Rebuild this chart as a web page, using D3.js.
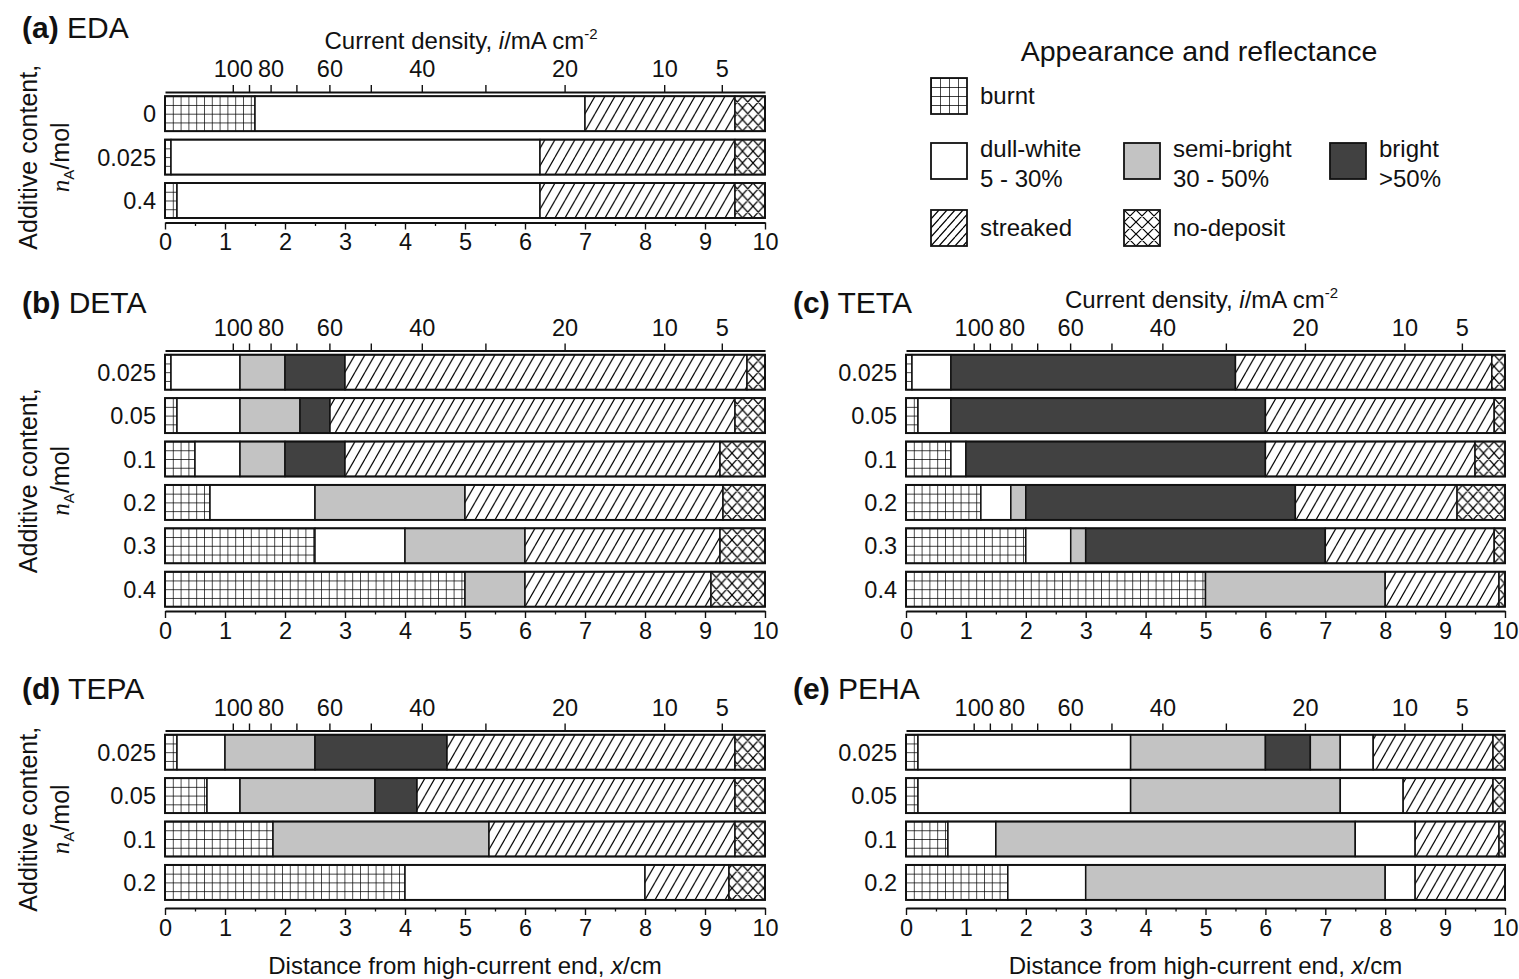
<!DOCTYPE html>
<html>
<head>
<meta charset="utf-8">
<script src="https://cdn.jsdelivr.net/npm/d3@7"></script>
<style>
body { margin: 0; background: #fff; }
svg text { font-family: "Liberation Sans", Arial, sans-serif; fill: #111; }
</style>
</head>
<body>
<svg id="chart" width="1519" height="979"></svg>
<script>
"use strict";

// bottom axis: distance from high-current end (cm)
var distanceTicks = [0, 1, 2, 3, 4, 5, 6, 7, 8, 9, 10];
var distanceMinor = [0.5, 1.5, 2.5, 3.5, 4.5, 5.5, 6.5, 7.5, 8.5, 9.5];

// top axis: current density (mA cm-2 at position x)
var currentTicks = [100, 90, 80, 70, 60, 50, 40, 30, 20, 10, 5];
var currentTickPos = [1.13, 1.40, 1.76, 2.19, 2.74, 3.43, 4.28, 5.34, 6.66, 8.32, 9.28];
var currentLabelled = [100, 80, 60, 40, 20, 10, 5];

var categories = ["burnt", "dull", "semi", "bright", "streaked", "none"];
var legendLabels = [["burnt"], ["dull-white", "5 - 30%"], ["semi-bright", "30 - 50%"], ["bright", ">50%"], ["streaked"], ["no-deposit"]];

// each row: [appearance, end position in cm], starting at 0
var edaContent = ["0", "0.025", "0.4"];
var edaBands = [
  [["burnt", 1.5], ["dull", 7.0], ["streaked", 9.5], ["none", 10]],
  [["burnt", 0.1], ["dull", 6.25], ["streaked", 9.5], ["none", 10]],
  [["burnt", 0.2], ["dull", 6.25], ["streaked", 9.5], ["none", 10]]
];

var detaContent = ["0.025", "0.05", "0.1", "0.2", "0.3", "0.4"];
var detaBands = [
  [["burnt", 0.1], ["dull", 1.25], ["semi", 2.0], ["bright", 3.0], ["streaked", 9.7], ["none", 10]],
  [["burnt", 0.2], ["dull", 1.25], ["semi", 2.25], ["bright", 2.75], ["streaked", 9.5], ["none", 10]],
  [["burnt", 0.5], ["dull", 1.25], ["semi", 2.0], ["bright", 3.0], ["streaked", 9.25], ["none", 10]],
  [["burnt", 0.75], ["dull", 2.5], ["semi", 5.0], ["streaked", 9.3], ["none", 10]],
  [["burnt", 2.5], ["dull", 4.0], ["semi", 6.0], ["streaked", 9.25], ["none", 10]],
  [["burnt", 5.0], ["semi", 6.0], ["streaked", 9.1], ["none", 10]]
];

var tetaContent = ["0.025", "0.05", "0.1", "0.2", "0.3", "0.4"];
var tetaBands = [
  [["burnt", 0.1], ["dull", 0.75], ["bright", 5.5], ["streaked", 9.78], ["none", 10]],
  [["burnt", 0.2], ["dull", 0.75], ["bright", 6.0], ["streaked", 9.82], ["none", 10]],
  [["burnt", 0.75], ["dull", 1.0], ["bright", 6.0], ["streaked", 9.5], ["none", 10]],
  [["burnt", 1.25], ["dull", 1.75], ["semi", 2.0], ["bright", 6.5], ["streaked", 9.2], ["none", 10]],
  [["burnt", 2.0], ["dull", 2.75], ["semi", 3.0], ["bright", 7.0], ["streaked", 9.82], ["none", 10]],
  [["burnt", 5.0], ["semi", 8.0], ["streaked", 9.9], ["none", 10]]
];

var tepaContent = ["0.025", "0.05", "0.1", "0.2"];
var tepaBands = [
  [["burnt", 0.2], ["dull", 1.0], ["semi", 2.5], ["bright", 4.7], ["streaked", 9.5], ["none", 10]],
  [["burnt", 0.7], ["dull", 1.25], ["semi", 3.5], ["bright", 4.2], ["streaked", 9.5], ["none", 10]],
  [["burnt", 1.8], ["semi", 5.4], ["streaked", 9.5], ["none", 10]],
  [["burnt", 4.0], ["dull", 8.0], ["streaked", 9.4], ["none", 10]]
];

var pehaContent = ["0.025", "0.05", "0.1", "0.2"];
var pehaBands = [
  [["burnt", 0.2], ["dull", 3.75], ["semi", 6.0], ["bright", 6.75], ["semi", 7.25], ["dull", 7.8], ["streaked", 9.8], ["none", 10]],
  [["burnt", 0.2], ["dull", 3.75], ["semi", 7.25], ["dull", 8.3], ["streaked", 9.8], ["none", 10]],
  [["burnt", 0.7], ["dull", 1.5], ["semi", 7.5], ["dull", 8.5], ["streaked", 9.9], ["none", 10]],
  [["burnt", 1.7], ["dull", 3.0], ["semi", 8.0], ["dull", 8.5], ["streaked", 10]]
];

var panels = [
  {tag: "(a)", name: "EDA", rows: edaContent, bands: edaBands, left: 165, right: 765, top: 92, bottom: 222.5, topTitle: true, yTitle: true, titleY: 38},
  {tag: "(b)", name: "DETA", rows: detaContent, bands: detaBands, left: 165, right: 765, top: 350.5, bottom: 611, yTitle: true, titleY: 313},
  {tag: "(c)", name: "TETA", rows: tetaContent, bands: tetaBands, left: 906, right: 1505, top: 350.5, bottom: 611, topTitle: true, titleY: 313},
  {tag: "(d)", name: "TEPA", rows: tepaContent, bands: tepaBands, left: 165, right: 765, top: 730.5, bottom: 908, yTitle: true, xTitle: true, titleY: 699},
  {tag: "(e)", name: "PEHA", rows: pehaContent, bands: pehaBands, left: 906, right: 1505, top: 730.5, bottom: 908, xTitle: true, titleY: 699}
];

var fills = {dull: "#ffffff", semi: "#c3c3c3", bright: "#414141"};
var ink = "#111";
var fontSize = 23.5;

var svg = d3.select("#chart");
var defs = svg.append("defs");
var patternCount = 0;

// hatch patterns are anchored at each box so the lines sit the same way in every bar
function makePattern(kind, x0, y0, w, h) {
  var id = "pat" + (patternCount++);
  var p = defs.append("pattern").attr("id", id)
    .attr("patternUnits", "userSpaceOnUse")
    .attr("x", x0).attr("y", y0).attr("width", w).attr("height", h);
  p.append("rect").attr("width", w).attr("height", h).attr("fill", "#fff");
  var d;
  if (kind === "burnt") {
    d = "M0,0V" + h + "M0,0H" + w;
  } else if (kind === "streaked") {
    d = "M" + (-w) + "," + h + "L0,0M0," + h + "L" + w + ",0M" + w + "," + h + "L" + (2 * w) + ",0";
  } else {
    d = "M" + (-w) + "," + h + "L0,0M0," + h + "L" + w + ",0M" + w + "," + h + "L" + (2 * w) + ",0" +
        "M" + (-w) + ",0L0," + h + "M0,0L" + w + "," + h + "M" + w + ",0L" + (2 * w) + "," + h;
  }
  p.append("path").attr("d", d).attr("stroke", "#000").attr("stroke-width", kind === "burnt" ? 1.4 : 1.2).attr("fill", "none");
  return "url(#" + id + ")";
}

function fillFor(cat, x0, y0, bh) {
  if (cat === "burnt") return makePattern("burnt", x0, y0, 7.8, bh / 4);
  if (cat === "streaked") return makePattern("streaked", x0, y0, 10, bh / 2);
  if (cat === "none") return makePattern("none", x0, y0, 10.5, bh / 3);
  return fills[cat];
}

panels.forEach(function(pn) {
  var g = svg.append("g");
  var x = d3.scaleLinear().domain([0, 10]).range([pn.left, pn.right]);
  var n = pn.rows.length;
  var y = d3.scaleBand().domain(pn.rows)
    .range([pn.top, pn.top + n * 43.4])
    .paddingInner(0.194).paddingOuter(0.097);
  var bh = y.bandwidth();

  // panel title
  var t = g.append("text").attr("x", pn.left < 500 ? 22 : 793).attr("y", pn.titleY)
    .attr("font-size", 30);
  t.append("tspan").attr("font-weight", "bold").text(pn.tag);
  t.append("tspan").text(" " + pn.name);

  if (pn.topTitle) {
    var tt = g.append("text").attr("x", (pn.left + pn.right) / 2 - 4).attr("y", pn.top - 43)
      .attr("text-anchor", "middle").attr("font-size", 24);
    tt.append("tspan").text("Current density, ");
    tt.append("tspan").attr("font-style", "italic").text("i");
    tt.append("tspan").text("/mA cm");
    tt.append("tspan").attr("font-size", 15).attr("dy", -10).text("-2");
  }

  // bars
  pn.bands.forEach(function(segs, ri) {
    var y0 = y(pn.rows[ri]);
    var start = 0;
    segs.forEach(function(s) {
      g.append("rect")
        .attr("x", x(start)).attr("y", y0)
        .attr("width", x(s[1]) - x(start)).attr("height", bh)
        .attr("fill", fillFor(s[0], pn.left, y0, bh))
        .attr("stroke", ink).attr("stroke-width", 1.5);
      start = s[1];
    });
    g.append("rect").attr("x", x(0)).attr("y", y0).attr("width", x(10) - x(0)).attr("height", bh)
      .attr("fill", "none").attr("stroke", ink).attr("stroke-width", 1.9);
  });

  // row labels
  g.selectAll(".rl").data(pn.rows).enter().append("text")
    .attr("x", pn.left - 9).attr("y", function(d) { return y(d) + bh / 2 + 8.5; })
    .attr("text-anchor", "end").attr("font-size", fontSize)
    .text(function(d) { return d; });

  // top axis: current density
  var top = g.append("g").attr("transform", "translate(0," + pn.top + ")")
    .call(d3.axisTop(x).tickValues(currentTickPos).tickSize(7).tickPadding(8).tickSizeOuter(0)
      .tickFormat(function(d, i) {
        var c = currentTicks[i];
        return currentLabelled.indexOf(c) >= 0 ? c : "";
      }));
  top.select(".domain").attr("stroke-width", 2.2).attr("stroke", ink);
  top.selectAll(".tick line").attr("stroke", ink).attr("stroke-width", 1.4);
  top.selectAll("text").attr("font-size", fontSize).attr("font-family", null).attr("fill", ink);

  // bottom axis: distance
  var bot = g.append("g").attr("transform", "translate(0," + pn.bottom + ")")
    .call(d3.axisBottom(x).tickValues(distanceTicks).tickSize(7).tickPadding(4).tickSizeOuter(0));
  bot.select(".domain").attr("stroke-width", 1.8).attr("stroke", ink);
  bot.selectAll(".tick line").attr("stroke", ink).attr("stroke-width", 1.4);
  bot.selectAll("text").attr("font-size", fontSize).attr("font-family", null).attr("fill", ink);
  var minor = g.append("g").attr("transform", "translate(0," + pn.bottom + ")")
    .call(d3.axisBottom(x).tickValues(distanceMinor).tickSize(3.5).tickFormat("").tickSizeOuter(0));
  minor.select(".domain").remove();
  minor.selectAll(".tick line").attr("stroke", ink).attr("stroke-width", 1.3);

  if (pn.xTitle) {
    var xt = g.append("text").attr("x", (pn.left + pn.right) / 2), xtY = 974;
    xt.attr("y", xtY).attr("text-anchor", "middle").attr("font-size", 24);
    xt.append("tspan").text("Distance from high-current end, ");
    xt.append("tspan").attr("font-style", "italic").text("x");
    xt.append("tspan").text("/cm");
  }

  if (pn.yTitle) {
    var cy = (pn.top + pn.bottom) / 2;
    g.append("text").attr("transform", "translate(37," + cy + ") rotate(-90)")
      .attr("text-anchor", "middle").attr("font-size", 25).text("Additive content,");
    var yt = g.append("text").attr("transform", "translate(69," + cy + ") rotate(-90)")
      .attr("text-anchor", "middle").attr("font-size", 25);
    yt.append("tspan").attr("font-style", "italic").attr("font-family", "Liberation Serif, serif").text("n");
    yt.append("tspan").attr("font-size", 15).attr("dy", 5).text("A");
    yt.append("tspan").attr("dy", -5).text("/mol");
  }
});

// legend
var lg = svg.append("g");
lg.append("text").attr("x", 1199).attr("y", 61).attr("text-anchor", "middle")
  .attr("font-size", 28.5).text("Appearance and reflectance");
var legendX = [931, 931, 1124, 1330, 931, 1124];
var legendY = [78, 143, 143, 143, 210, 210];
var box = 36;
categories.forEach(function(cat, i) {
  var bx = legendX[i], by = legendY[i], f;
  if (cat === "burnt") f = makePattern("burnt", bx, by, box / 4, box / 4);
  else if (cat === "streaked") f = makePattern("streaked", bx, by, box / 4.5, box / 4);
  else if (cat === "none") f = makePattern("none", bx, by, box / 3, box / 3);
  else f = fills[cat];
  lg.append("rect").attr("x", bx).attr("y", by).attr("width", box).attr("height", box)
    .attr("fill", f).attr("stroke", ink).attr("stroke-width", 1.8);
  var lines = legendLabels[i];
  var lt = lg.append("text").attr("x", bx + 49).attr("font-size", 24);
  if (lines.length === 1) {
    lt.attr("y", by + box / 2 + 8).text(lines[0]);
  } else {
    lt.attr("y", by + 14).text(lines[0]);
    lg.append("text").attr("x", bx + 49).attr("y", by + 44).attr("font-size", 24).text(lines[1]);
  }
});
</script>
</body>
</html>
